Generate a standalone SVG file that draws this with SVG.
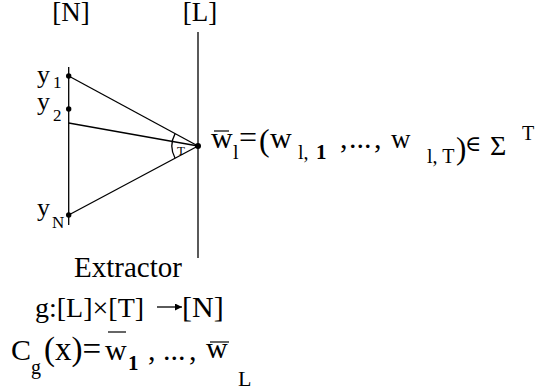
<svg xmlns="http://www.w3.org/2000/svg" width="539" height="391" viewBox="0 0 539 391">
<defs>
<marker id="ah" viewBox="0 0 10 10" refX="10" refY="5" markerWidth="9" markerHeight="7" markerUnits="userSpaceOnUse" orient="auto">
<path d="M0,0 L10,5 L0,10 z" fill="#000"/>
</marker>
</defs>
<rect width="539" height="391" fill="#fff"/>

<g id="label-N"><text style="font-family:'Liberation Serif'" font-family="Liberation Serif" x="71" y="21" font-size="27" text-anchor="middle">[N]</text></g>
<g id="label-L"><text style="font-family:'Liberation Serif'" font-family="Liberation Serif" x="200" y="21" font-size="27" text-anchor="middle">[L]</text></g>

<g id="axis-N" stroke="#000" stroke-width="1.3"><line x1="68.7" y1="67" x2="68.7" y2="225"/></g>
<g id="axis-L" stroke="#000" stroke-width="1.3"><line x1="198" y1="32" x2="198" y2="258"/></g>

<g id="connectors" stroke="#000" stroke-width="1.3" fill="none">
<line x1="68.7" y1="76" x2="198" y2="146"/>
<line x1="68.7" y1="123" x2="198" y2="146"/>
<line x1="68.7" y1="215" x2="198" y2="146"/>
<path d="M175.1,133.6 A26,26 0 0 0 175.1,158.2"/>
</g>

<g id="node-y1"><circle fill="#000" cx="68.7" cy="76" r="2.7"/>
<text style="font-family:'Liberation Serif'" font-family="Liberation Serif" x="37" y="83" font-size="26">y</text><text style="font-family:'Liberation Serif'" font-family="Liberation Serif" x="53" y="88" font-size="17">1</text></g>
<g id="node-y2"><circle fill="#000" cx="68.7" cy="109" r="2.7"/>
<text style="font-family:'Liberation Serif'" font-family="Liberation Serif" x="37" y="110" font-size="26">y</text><text style="font-family:'Liberation Serif'" font-family="Liberation Serif" x="53" y="121" font-size="17">2</text></g>
<g id="node-yN"><circle fill="#000" cx="68.7" cy="215" r="2.7"/>
<text style="font-family:'Liberation Serif'" font-family="Liberation Serif" x="37" y="216" font-size="26">y</text><text style="font-family:'Liberation Serif'" font-family="Liberation Serif" x="52" y="228" font-size="17">N</text></g>

<g id="node-apex"><circle fill="#000" cx="198" cy="146" r="3"/>
<text style="font-family:'Liberation Serif'" font-family="Liberation Serif" x="181" y="155" font-size="13" text-anchor="middle">T</text></g>

<g id="formula-w">
<text style="font-family:'Liberation Serif'" font-family="Liberation Serif" x="211" y="148" font-size="30">w</text>
<line stroke="#000" stroke-width="1.2" x1="214" y1="131" x2="229" y2="131"/>
<text style="font-family:'Liberation Serif'" font-family="Liberation Serif" x="233" y="159" font-size="20">l</text>
<text style="font-family:'Liberation Serif'" font-family="Liberation Serif" x="239" y="148" font-size="32">=</text>
<text style="font-family:'Liberation Serif'" font-family="Liberation Serif" x="259" y="151" font-size="32">(</text>
<text style="font-family:'Liberation Serif'" font-family="Liberation Serif" x="270" y="148" font-size="30">w</text>
<text style="font-family:'Liberation Serif'" font-family="Liberation Serif" x="298" y="159" font-size="20">l,</text>
<text style="font-family:'Liberation Serif'" font-family="Liberation Serif" font-weight="bold" x="316" y="159" font-size="21">1</text>
<text style="font-family:'Liberation Serif'" font-family="Liberation Serif" x="340" y="148" font-size="30">,</text>
<text style="font-family:'Liberation Serif'" font-family="Liberation Serif" x="349" y="148" font-size="30">...</text>
<text style="font-family:'Liberation Serif'" font-family="Liberation Serif" x="374" y="148" font-size="30">,</text>
<text style="font-family:'Liberation Serif'" font-family="Liberation Serif" x="391" y="148" font-size="27">w</text>
<text style="font-family:'Liberation Serif'" font-family="Liberation Serif" x="427" y="163" font-size="20">l, T</text>
<text style="font-family:'Liberation Serif'" font-family="Liberation Serif" x="456" y="159" font-size="31">)</text>
<text style="font-family:'Liberation Serif','DejaVu Serif'" font-family="Liberation Serif" x="465" y="151" font-size="22">∈</text>
<text style="font-family:'Liberation Serif'" font-family="Liberation Serif" x="490" y="155" font-size="28">Σ</text>
<text style="font-family:'Liberation Serif'" font-family="Liberation Serif" x="522" y="140" font-size="20">T</text>
</g>

<g id="extractor">
<text style="font-family:'Liberation Serif'" font-family="Liberation Serif" x="74" y="277" font-size="29">Extractor</text>
<text style="font-family:'Liberation Serif'" font-family="Liberation Serif" x="35" y="317" font-size="28">g:[L]×[T]</text>
<line stroke="#000" stroke-width="1.3" x1="157" y1="307" x2="182" y2="307" marker-end="url(#ah)"/>
<text style="font-family:'Liberation Serif'" font-family="Liberation Serif" x="182" y="317" font-size="30">[N]</text>
</g>

<g id="formula-C">
<text style="font-family:'Liberation Serif'" font-family="Liberation Serif" x="11" y="360" font-size="30">C</text>
<text style="font-family:'Liberation Serif'" font-family="Liberation Serif" x="31" y="374" font-size="20">g</text>
<text style="font-family:'Liberation Serif'" font-family="Liberation Serif" x="44" y="360" font-size="33">(x)=</text>
<text style="font-family:'Liberation Serif'" font-family="Liberation Serif" x="105" y="360" font-size="30">w</text>
<line stroke="#000" stroke-width="1.2" x1="108" y1="332" x2="126" y2="332"/>
<text style="font-family:'Liberation Serif'" font-family="Liberation Serif" font-weight="bold" x="128" y="370" font-size="21">1</text>
<text style="font-family:'Liberation Serif'" font-family="Liberation Serif" x="148" y="360" font-size="30">,</text>
<text style="font-family:'Liberation Serif'" font-family="Liberation Serif" x="163" y="360" font-size="30">...</text>
<text style="font-family:'Liberation Serif'" font-family="Liberation Serif" x="189" y="360" font-size="30">,</text>
<text style="font-family:'Liberation Serif'" font-family="Liberation Serif" x="206" y="358" font-size="30">w</text>
<line stroke="#000" stroke-width="1.2" x1="210" y1="342" x2="229" y2="342"/>
<text style="font-family:'Liberation Serif'" font-family="Liberation Serif" x="238" y="386" font-size="22">L</text>
</g>
</svg>
